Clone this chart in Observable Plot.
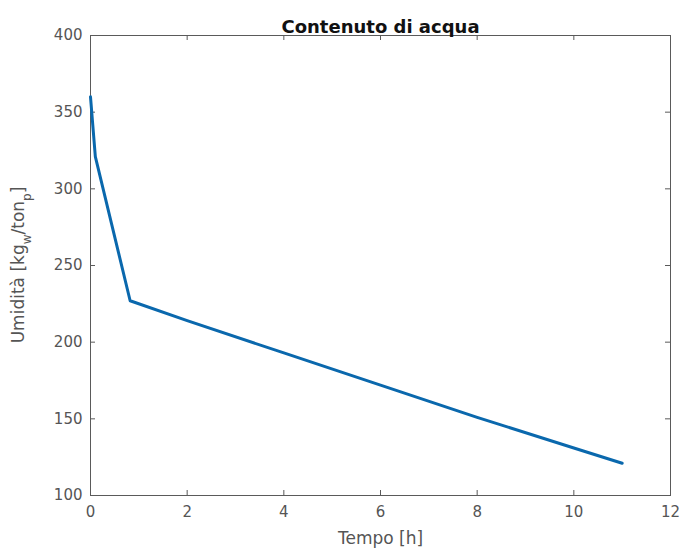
<!DOCTYPE html>
<html>
<head>
<meta charset="utf-8">
<script src="https://cdn.jsdelivr.net/npm/d3@7"></script>
<script src="https://cdn.jsdelivr.net/npm/@observablehq/plot@0.6"></script>
<style>
  html, body { margin: 0; padding: 0; background: #fff; }
  #chart svg { display: block; }
</style>
</head>
<body>
<div id="chart"></div>
<script>
// Moisture content over drying time
const timeH    = [0,   0.1, 0.82, 2,   4,   6,   8,   10,  11];
const moisture = [360, 321, 227,  214, 193, 172, 151, 131, 121];

const xTicks = [0, 2, 4, 6, 8, 10, 12];
const yTicks = [100, 150, 200, 250, 300, 350, 400];

const titleText = "Contenuto di acqua";
const xLabel = "Tempo [h]";

const data = timeH.map((t, i) => ({t, m: moisture[i]}));

const W = 680, H = 556;
const mL = 90, mR = 10, mT = 35, mB = 61;
const innerW = W - mL - mR, innerH = H - mT - mB;
const tickLen = 5;
const axisColor = "#5a5a5a";

const chart = Plot.plot({
  width: W,
  height: H,
  marginLeft: mL,
  marginRight: mR,
  marginTop: mT,
  marginBottom: mB,
  style: {fontFamily: "DejaVu Sans", fontSize: "15px", color: "#555", background: "#fff"},
  x: {domain: [0, 12]},
  y: {domain: [100, 400]},
  marks: [
    Plot.frame({stroke: axisColor, strokeWidth: 1}),
    // inward ticks on all four sides
    Plot.ruleY(yTicks, {y: d => d, insetRight: innerW - tickLen, stroke: axisColor}),
    Plot.ruleY(yTicks, {y: d => d, insetLeft: innerW - tickLen, stroke: axisColor}),
    Plot.ruleX(xTicks, {x: d => d, insetTop: innerH - tickLen, stroke: axisColor}),
    Plot.ruleX(xTicks, {x: d => d, insetBottom: innerH - tickLen, stroke: axisColor}),
    Plot.axisX(xTicks, {tickSize: 0, tickPadding: 11, label: null, fill: "#555"}),
    Plot.axisY(yTicks, {tickSize: 0, tickPadding: 8, label: null, fill: "#555"}),
    Plot.line(data, {x: "t", y: "m", stroke: "#0a68ad", strokeWidth: 3, strokeLinejoin: "round"}),
    Plot.text([xLabel], {frameAnchor: "bottom", dy: 48, fontSize: 17, fill: "#555"}),
    Plot.text([titleText], {frameAnchor: "top", dy: -15, fontSize: 18, fontWeight: "bold", fill: "#111"})
  ]
});

document.getElementById("chart").appendChild(chart);

// y-axis label with subscripts
const svg = d3.select(chart);
const yl = svg.append("text")
  .attr("transform", `translate(24,${mT + innerH / 2}) rotate(-90)`)
  .attr("text-anchor", "middle")
  .attr("fill", "#555")
  .style("font-family", "DejaVu Sans")
  .style("font-size", "17px");
yl.append("tspan").text("Umidità [kg");
yl.append("tspan").attr("baseline-shift", "sub").style("font-size", "12px").text("w");
yl.append("tspan").text("/ton");
yl.append("tspan").attr("baseline-shift", "sub").style("font-size", "12px").text("p");
yl.append("tspan").text("]");
</script>
</body>
</html>
